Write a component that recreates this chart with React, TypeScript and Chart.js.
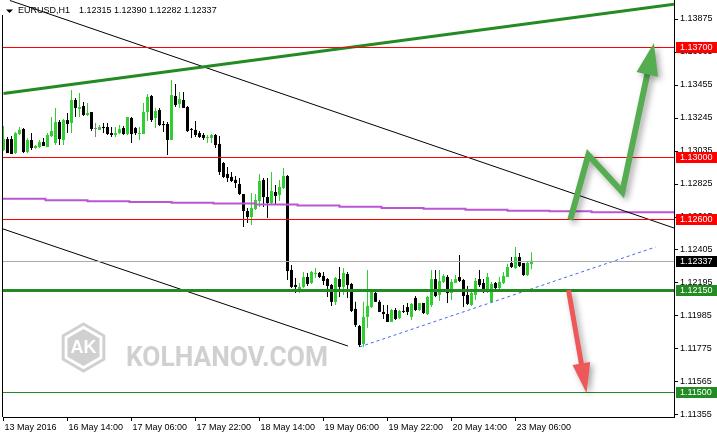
import React, { useEffect, useRef } from "react";
import { Chart, registerables } from "chart.js";

Chart.register(...registerables);

// ---------- data ----------
const symbolTitle = "EURUSD,H1";
const titleValues = ["1.12315", "1.12390", "1.12282", "1.12337"];

const opens = [
  1.13041, 1.13111, 1.13111, 1.13022, 1.13143, 1.13175, 1.13029, 1.13105, 1.13054, 1.13060,
  1.13092, 1.13060, 1.13130, 1.13086, 1.13220, 1.13105, 1.13232, 1.13213, 1.13360, 1.13302,
  1.13321, 1.13264, 1.13283, 1.13175, 1.13169, 1.13188, 1.13188, 1.13149, 1.13137, 1.13149,
  1.13181, 1.13143, 1.13245, 1.13181, 1.13143, 1.13143, 1.13283, 1.13385, 1.13245, 1.13296,
  1.13207, 1.13207, 1.13105, 1.13385, 1.13334, 1.13360, 1.13315, 1.13175, 1.13169, 1.13149,
  1.13137, 1.13118, 1.13118, 1.13137, 1.13080, 1.12959, 1.12889, 1.12870, 1.12851, 1.12825,
  1.12761, 1.12653, 1.12615, 1.12666, 1.12717, 1.12851, 1.12742, 1.12704, 1.12774, 1.12755,
  1.12800, 1.12876, 1.12278, 1.12182, 1.12138, 1.12170, 1.12233, 1.12195, 1.12252, 1.12259,
  1.12240, 1.12220, 1.12182, 1.12075, 1.12220, 1.12170, 1.12252, 1.12189, 1.12030, 1.11921,
  1.11807, 1.11979, 1.12042, 1.12131, 1.12075, 1.12011, 1.11998, 1.11947, 1.12023, 1.11972,
  1.12017, 1.12042, 1.11979, 1.12100, 1.12023, 1.12068, 1.11998, 1.12055, 1.12220, 1.12119,
  1.12202, 1.12233, 1.12131, 1.12195, 1.12233, 1.12214, 1.12119, 1.12055, 1.12119, 1.12220,
  1.12195, 1.12157, 1.12075, 1.12195, 1.12163, 1.12195, 1.12233, 1.12322, 1.12290, 1.12360,
  1.12322, 1.12246, 1.12315,
];
const highs = [
  1.13194, 1.13124, 1.13130, 1.13156, 1.13188, 1.13181, 1.13118, 1.13149, 1.13073, 1.13105,
  1.13118, 1.13149, 1.13251, 1.13309, 1.13232, 1.13239, 1.13277, 1.13423, 1.13372, 1.13404,
  1.13347, 1.13340, 1.13283, 1.13213, 1.13200, 1.13213, 1.13213, 1.13188, 1.13188, 1.13200,
  1.13194, 1.13251, 1.13251, 1.13188, 1.13188, 1.13340, 1.13398, 1.13391, 1.13309, 1.13309,
  1.13226, 1.13220, 1.13487, 1.13461, 1.13411, 1.13411, 1.13321, 1.13181, 1.13226, 1.13162,
  1.13149, 1.13137, 1.13143, 1.13143, 1.13130, 1.12965, 1.12933, 1.12901, 1.12876, 1.12863,
  1.12761, 1.12672, 1.12768, 1.12761, 1.12889, 1.12863, 1.12863, 1.12901, 1.12819, 1.12851,
  1.12927, 1.12882, 1.12310, 1.12227, 1.12195, 1.12265, 1.12259, 1.12271, 1.12290, 1.12265,
  1.12265, 1.12227, 1.12189, 1.12233, 1.12297, 1.12290, 1.12265, 1.12195, 1.12075, 1.11928,
  1.12075, 1.12278, 1.12144, 1.12138, 1.12087, 1.12055, 1.12055, 1.12030, 1.12036, 1.12023,
  1.12055, 1.12068, 1.12068, 1.12112, 1.12068, 1.12068, 1.12112, 1.12278, 1.12278, 1.12278,
  1.12252, 1.12246, 1.12220, 1.12246, 1.12373, 1.12220, 1.12176, 1.12138, 1.12227, 1.12278,
  1.12220, 1.12259, 1.12202, 1.12202, 1.12233, 1.12265, 1.12316, 1.12360, 1.12424, 1.12386,
  1.12322, 1.12335, 1.12390,
];
const lows = [
  1.13035, 1.13022, 1.13016, 1.13016, 1.13137, 1.13022, 1.13022, 1.13041, 1.13048, 1.13054,
  1.13067, 1.13060, 1.13124, 1.13073, 1.13073, 1.13073, 1.13149, 1.13149, 1.13251, 1.13251,
  1.13258, 1.13258, 1.13162, 1.13124, 1.13169, 1.13149, 1.13137, 1.13124, 1.13124, 1.13143,
  1.13137, 1.13137, 1.13086, 1.13137, 1.13105, 1.13143, 1.13226, 1.13220, 1.13181, 1.13194,
  1.13156, 1.13010, 1.13105, 1.13315, 1.13309, 1.13309, 1.13156, 1.13118, 1.13124, 1.13118,
  1.13105, 1.13086, 1.13086, 1.13054, 1.12882, 1.12863, 1.12838, 1.12838, 1.12800, 1.12755,
  1.12551, 1.12577, 1.12564, 1.12660, 1.12679, 1.12679, 1.12609, 1.12698, 1.12698, 1.12717,
  1.12793, 1.12214, 1.12163, 1.12131, 1.12131, 1.12163, 1.12176, 1.12189, 1.12227, 1.12227,
  1.12182, 1.12106, 1.12049, 1.12055, 1.12106, 1.12119, 1.12100, 1.12011, 1.11915, 1.11788,
  1.11788, 1.11909, 1.12036, 1.12075, 1.12011, 1.11966, 1.11947, 1.11947, 1.11960, 1.11966,
  1.12004, 1.11991, 1.11960, 1.12017, 1.12017, 1.11998, 1.11991, 1.12042, 1.12106, 1.12081,
  1.12195, 1.12068, 1.12087, 1.12195, 1.12202, 1.12042, 1.12055, 1.12049, 1.12087, 1.12170,
  1.12131, 1.12131, 1.12068, 1.12157, 1.12157, 1.12189, 1.12233, 1.12290, 1.12284, 1.12297,
  1.12240, 1.12240, 1.12282,
];
const closes = [
  1.13111, 1.13022, 1.13016, 1.13149, 1.13169, 1.13029, 1.13105, 1.13054, 1.13067, 1.13092,
  1.13067, 1.13137, 1.13162, 1.13220, 1.13111, 1.13232, 1.13207, 1.13360, 1.13309, 1.13315,
  1.13264, 1.13277, 1.13175, 1.13175, 1.13188, 1.13181, 1.13143, 1.13137, 1.13149, 1.13175,
  1.13143, 1.13251, 1.13143, 1.13149, 1.13149, 1.13283, 1.13379, 1.13232, 1.13290, 1.13200,
  1.13200, 1.13105, 1.13391, 1.13328, 1.13366, 1.13309, 1.13162, 1.13169, 1.13137, 1.13124,
  1.13118, 1.13124, 1.13137, 1.13073, 1.12901, 1.12870, 1.12863, 1.12844, 1.12831, 1.12761,
  1.12653, 1.12615, 1.12672, 1.12723, 1.12844, 1.12742, 1.12704, 1.12781, 1.12749, 1.12806,
  1.12876, 1.12271, 1.12170, 1.12170, 1.12170, 1.12233, 1.12189, 1.12265, 1.12259, 1.12233,
  1.12208, 1.12176, 1.12075, 1.12227, 1.12170, 1.12259, 1.12182, 1.12017, 1.11928, 1.11800,
  1.11979, 1.12049, 1.12138, 1.12075, 1.12011, 1.11998, 1.11947, 1.12023, 1.11966, 1.12017,
  1.12011, 1.12011, 1.12062, 1.12023, 1.12068, 1.12004, 1.12106, 1.12220, 1.12112, 1.12208,
  1.12240, 1.12131, 1.12202, 1.12220, 1.12208, 1.12112, 1.12062, 1.12131, 1.12208, 1.12182,
  1.12157, 1.12233, 1.12189, 1.12163, 1.12202, 1.12240, 1.12297, 1.12297, 1.12360, 1.12303,
  1.12246, 1.12322, 1.12337,
];

const xTickIndex = [0, 16, 32, 48, 64, 80, 96, 112, 128];
const xTickLabels = [
  "13 May 2016", "16 May 14:00", "17 May 06:00", "17 May 22:00", "18 May 14:00",
  "19 May 06:00", "19 May 22:00", "20 May 14:00", "23 May 06:00",
];
const yTickValues = [
  1.13875, 1.13665, 1.13455, 1.13245, 1.13035, 1.12825, 1.12615,
  1.12405, 1.12195, 1.11985, 1.11775, 1.11565, 1.11355,
];
const Y_MIN = 1.113422;
const Y_MAX = 1.13996;
const X_MIN = -0.125;
const X_MAX = 167.625;

// trend lines: [index, price]
const channelTopX = [0, 167.625];
const channelTopY = [1.13401, 1.13969];
const upperBlackX = [1.6, 167.625];
const upperBlackY = [1.13993, 1.12545];
const lowerBlackX = [-0.125, 86.1];
const lowerBlackY = [1.12539, 1.11794];
const blueTrendX = [89, 163];
const blueTrendY = [1.11788, 1.12424];

// stepped moving average (purple)
const maX = [0, 10.5, 21, 31.5, 42, 52.5, 63, 73.5, 84, 94.5, 105, 115.5, 126, 136.5, 147, 157.5, 167.625];
const maY = [
  1.12738, 1.12731, 1.12722, 1.12716, 1.12710, 1.12706, 1.12701, 1.12695, 1.12688,
  1.12680, 1.12672, 1.12668, 1.12661, 1.12655, 1.12651, 1.12646, 1.12646,
];

// horizontal levels (price, colour, width)
const levelValues = [1.137, 1.13, 1.126, 1.12337, 1.1215, 1.115];
const levelColors = ["#ff0000", "#ff0000", "#ff0000", "rgb(170,170,170)", "rgb(34,139,34)", "rgb(34,139,34)"];
const levelWidths = [1, 1, 1, 1, 3, 1];
const labelColors = ["#ff0000", "#ff0000", "#ff0000", "#000000", "#228b22", "#228b22"];

// arrows
const greenArrowX = [141.7, 146.2, 154.7, 162.6];
const greenArrowY = [1.12597, 1.1301, 1.12774, 1.13722];
const redArrowX = [141.25, 145.75];
const redArrowY = [1.1215, 1.11495];

// ---------- styles ----------
const BULL = "rgb(50,205,50)";
const BEAR = "rgb(0,0,0)";
const DOJI = "rgb(128,128,128)";
const FONT = '"Liberation Sans", Arial, sans-serif';

const candleColors = opens.map((o, i) =>
  closes[i] > o ? BULL : closes[i] < o ? BEAR : DOJI
);

const pts = (xs: number[], ys: number[]) => xs.map((x, i) => ({ x, y: ys[i] }));

function lineDs(data: any[], color: string, width: number, extra: any = {}) {
  return {
    type: "line",
    data,
    borderColor: color,
    borderWidth: width,
    pointRadius: 0,
    pointHoverRadius: 0,
    fill: false,
    tension: 0,
    order: 1,
    ...extra,
  };
}

function drawArrow(
  ctx: CanvasRenderingContext2D,
  p: number[][],
  color: string,
  lw: number,
  headLen: number,
  headW: number
) {
  const n = p.length;
  const [tx, ty] = p[n - 1];
  const [px, py] = p[n - 2];
  const ang = Math.atan2(ty - py, tx - px);
  const bx = tx - Math.cos(ang) * headLen;
  const by = ty - Math.sin(ang) * headLen;
  ctx.save();
  ctx.shadowColor = "rgba(0,0,0,0.35)";
  ctx.shadowBlur = 6;
  ctx.shadowOffsetX = 3;
  ctx.shadowOffsetY = 3;
  ctx.strokeStyle = color;
  ctx.fillStyle = color;
  ctx.lineWidth = lw;
  ctx.lineJoin = "miter";
  ctx.lineCap = "butt";
  ctx.beginPath();
  ctx.moveTo(p[0][0], p[0][1]);
  for (let i = 1; i < n - 1; i++) ctx.lineTo(p[i][0], p[i][1]);
  ctx.lineTo(bx + Math.cos(ang) * 2, by + Math.sin(ang) * 2);
  ctx.stroke();
  const nx = Math.cos(ang + Math.PI / 2) * (headW / 2);
  const ny = Math.sin(ang + Math.PI / 2) * (headW / 2);
  ctx.beginPath();
  ctx.moveTo(tx, ty);
  ctx.lineTo(bx + nx, by + ny);
  ctx.lineTo(bx - nx, by - ny);
  ctx.closePath();
  ctx.fill();
  ctx.restore();
}

const overlayPlugin = {
  id: "overlay",
  beforeDatasetsDraw(chart: any) {
    const { ctx } = chart;
    ctx.save();
    // watermark
    const grey = "rgb(208,208,208)";
    const cx = 83.5, cy = 347.5;
    const hex = (r: number) => {
      ctx.beginPath();
      for (let k = 0; k < 6; k++) {
        const a = -Math.PI / 2 + (k * Math.PI) / 3;
        const x = cx + r * Math.cos(a), y = cy + r * Math.sin(a);
        if (k === 0) ctx.moveTo(x, y); else ctx.lineTo(x, y);
      }
      ctx.closePath();
    };
    ctx.strokeStyle = grey;
    ctx.lineWidth = 3;
    hex(23.5);
    ctx.stroke();
    ctx.fillStyle = grey;
    hex(18.5);
    ctx.fill();
    ctx.fillStyle = "#ffffff";
    ctx.font = 'bold 18px "Liberation Sans", Arial, sans-serif';
    ctx.textAlign = "center";
    ctx.textBaseline = "middle";
    ctx.fillText("AK", cx, cy + 1, 26);
    ctx.fillStyle = grey;
    ctx.font = "bold 28px Roboto, sans-serif";
    ctx.textAlign = "left";
    ctx.textBaseline = "alphabetic";
    ctx.fillText("KOLHANOV.COM", 126, 365.5, 202);

    // title
    ctx.fillStyle = "#000";
    ctx.beginPath();
    ctx.moveTo(6, 9.5);
    ctx.lineTo(13, 9.5);
    ctx.lineTo(9.5, 13);
    ctx.closePath();
    ctx.fill();
    ctx.font = "9px " + FONT;
    ctx.textBaseline = "middle";
    ctx.fillText(symbolTitle, 18, 11);
    ctx.fillText(titleValues.join(" "), 79, 11);
    ctx.restore();
  },
  afterDatasetsDraw(chart: any) {
    const { ctx, scales, chartArea } = chart;
    const xs = scales.x, ys = scales.y;
    // crisp horizontal price levels
    ctx.save();
    levelValues.forEach((v, k) => {
      const w = levelWidths[k];
      const yc = Math.round(ys.getPixelForValue(v));
      ctx.fillStyle = levelColors[k];
      ctx.fillRect(chartArea.left, yc - Math.floor(w / 2), chartArea.right - chartArea.left, w);
    });
    ctx.restore();
    const g = greenArrowX.map((x, i) => [xs.getPixelForValue(x), ys.getPixelForValue(greenArrowY[i])]);
    const r = redArrowX.map((x, i) => [xs.getPixelForValue(x), ys.getPixelForValue(redArrowY[i])]);
    drawArrow(ctx, g, "rgb(86,172,80)", 6, 32, 22);
    drawArrow(ctx, r, "rgb(238,88,88)", 5, 30, 18);
  },
  afterDraw(chart: any) {
    const { ctx, chartArea, scales } = chart;
    ctx.save();
    // left frame line
    ctx.fillStyle = "#000";
    ctx.fillRect(chartArea.left - 1, 15, 1, chartArea.bottom - 15);
    // price labels
    const ys = scales.y;
    ctx.font = "9px " + FONT;
    ctx.textBaseline = "middle";
    ctx.textAlign = "left";
    levelValues.forEach((v, k) => {
      const y = Math.round(ys.getPixelForValue(v));
      ctx.fillStyle = labelColors[k];
      ctx.fillRect(chartArea.right + 2, y - 5, chart.width - chartArea.right - 2, 11);
      ctx.fillStyle = "#ffffff";
      ctx.fillText(v.toFixed(5), chartArea.right + 6, y + 0.5);
    });
    ctx.restore();
  },
};

export default function App() {
  const ref = useRef<HTMLCanvasElement>(null);
  useEffect(() => {
    document.body.style.margin = "0";
    const canvas = ref.current!;
    const idx = opens.map((_, i) => i);
    const chart = new Chart(canvas, {
      type: "bar",
      data: {
        datasets: [
          lineDs(pts(channelTopX, channelTopY), "rgb(34,139,34)", 3, { order: 2 }),
          lineDs(pts(upperBlackX, upperBlackY), "#000", 1, { order: 2 }),
          lineDs(pts(lowerBlackX, lowerBlackY), "#000", 1, { order: 2 }),
          lineDs(pts(maX, maY), "rgb(186,85,211)", 2, { stepped: "after", order: 3 }),
          lineDs(pts(blueTrendX, blueTrendY), "rgb(65,105,225)", 1, { borderDash: [3, 3], order: 1 }),
          {
            type: "bar",
            data: idx.map((i) => ({ x: i, y: [lows[i], highs[i]] })),
            backgroundColor: candleColors,
            barThickness: 1,
            grouped: false,
            inflateAmount: 0,
            borderWidth: 0,
            order: 10,
          },
          {
            type: "bar",
            data: idx.map((i) => ({ x: i, y: [opens[i], closes[i]] })),
            backgroundColor: candleColors,
            barThickness: 3,
            grouped: false,
            inflateAmount: 0,
            borderWidth: 0,
            minBarLength: 1,
            order: 9,
          },
        ] as any,
      },
      plugins: [overlayPlugin],
      options: {
        responsive: false,
        animation: false,
        devicePixelRatio: 1,
        layout: { padding: { left: 3, top: 0, right: 0, bottom: 0 } },
        plugins: { legend: { display: false }, tooltip: { enabled: false } },
        events: [],
        scales: {
          x: {
            type: "linear",
            min: X_MIN,
            max: X_MAX,
            offset: false,
            afterFit: (s: any) => { s.height = 21; s.paddingLeft = 0; s.paddingRight = 0; },
            afterBuildTicks: (s: any) => { s.ticks = xTickIndex.map((v) => ({ value: v })); },
            grid: { offset: false, drawOnChartArea: false, drawTicks: true, tickLength: 4, color: "#000", tickColor: "#000" },
            border: { display: true, color: "#000", width: 1 },
            ticks: {
              autoSkip: false,
              maxRotation: 0,
              minRotation: 0,
              align: "start",
              padding: 1,
              labelOffset: 1,
              color: "#000",
              font: { family: FONT, size: 9 },
              callback: (v: any) => xTickLabels[xTickIndex.indexOf(Number(v))] ?? "",
            },
          },
          y: {
            type: "linear",
            position: "right",
            min: Y_MIN,
            max: Y_MAX,
            afterFit: (s: any) => { s.width = 43; s.paddingTop = 0; s.paddingBottom = 0; },
            afterBuildTicks: (s: any) => { s.ticks = yTickValues.map((v) => ({ value: v })); },
            grid: { drawOnChartArea: false, drawTicks: true, tickLength: 4, color: "#000", tickColor: "#000" },
            border: { display: true, color: "#000", width: 1 },
            ticks: {
              autoSkip: false,
              padding: 2,
              color: "#000",
              font: { family: FONT, size: 9 },
              callback: (v: any) => Number(v).toFixed(5),
            },
          },
        },
      } as any,
    });
    return () => chart.destroy();
  }, []);
  return (
    <canvas
      ref={ref}
      width={717}
      height={438}
      style={{ display: "block", width: 717, height: 438 }}
    />
  );
}
